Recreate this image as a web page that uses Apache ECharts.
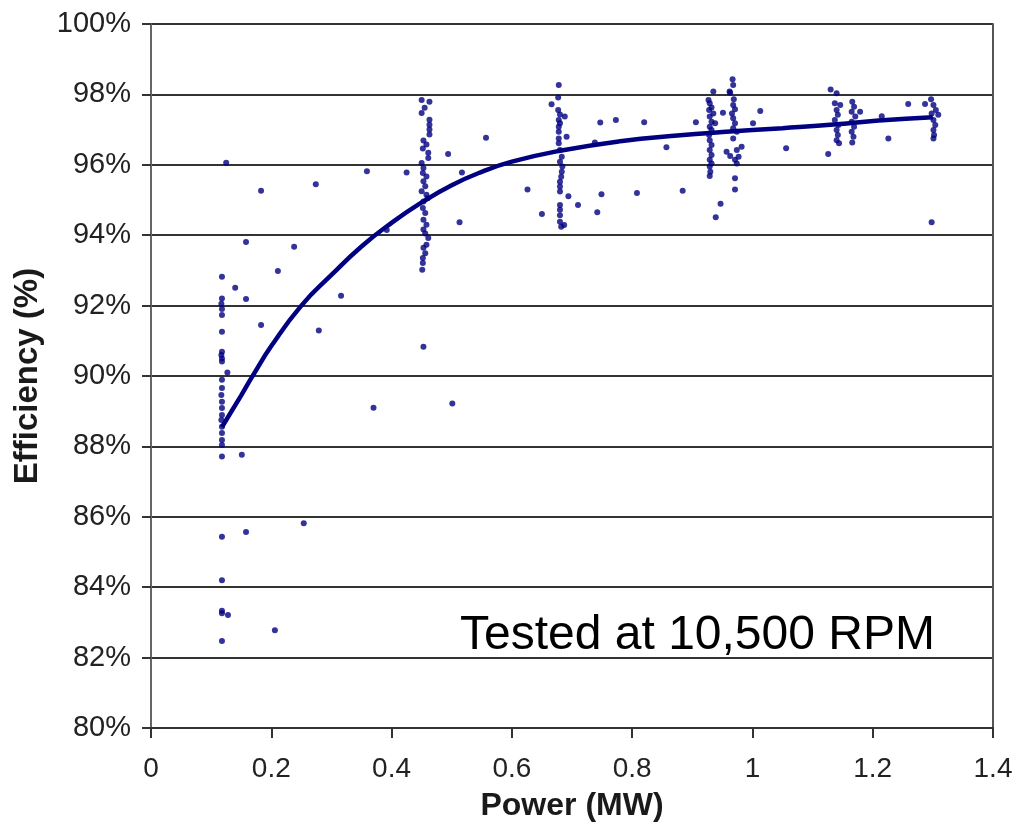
<!DOCTYPE html>
<html>
<head>
<meta charset="utf-8">
<script src="https://cdn.jsdelivr.net/npm/echarts@6/dist/echarts.min.js"></script>
<style>
  html, body { margin: 0; padding: 0; background: #fff; }
  #chart { width: 1017px; height: 824px; }
</style>
</head>
<body>
<div id="chart"></div>
<script>
// Axis ticks
const xTicks = [0, 0.2, 0.4, 0.6, 0.8, 1, 1.2, 1.4];
const yTicks = [80, 82, 84, 86, 88, 90, 92, 94, 96, 98, 100];

// Measured points [power MW, efficiency %], grouped by test load
const lowLoad = [
  [0.118,92.82],[0.118,92.2],[0.117,92.05],[0.118,91.9],[0.118,91.73],[0.118,91.26],
  [0.118,90.69],[0.117,90.6],[0.118,90.5],[0.118,90.41],[0.118,89.89],[0.118,89.66],
  [0.117,89.46],[0.118,89.27],[0.118,89.09],[0.118,88.89],[0.117,88.75],[0.118,88.56],
  [0.118,88.38],[0.118,88.18],[0.118,88.04],[0.118,87.71],[0.118,85.43],[0.118,84.2],
  [0.118,83.33],[0.118,83.26],[0.118,82.47]
];
const load045 = [
  [0.450,97.84],[0.463,97.79],[0.455,97.62],[0.450,97.47],[0.463,97.28],[0.463,97.14],
  [0.463,97.0],[0.463,96.86],[0.453,96.69],[0.458,96.58],[0.452,96.46],[0.461,96.34],
  [0.461,96.19],[0.450,96.05],[0.453,95.91],[0.452,95.77],[0.458,95.67],[0.453,95.53],
  [0.456,95.39],[0.450,95.25],[0.458,95.15],[0.460,95.05],[0.453,94.96],[0.452,94.77],
  [0.456,94.63],[0.453,94.44],[0.458,94.30],[0.453,94.16],[0.456,94.05],[0.461,93.92],
  [0.458,93.73],[0.453,93.64],[0.456,93.49],[0.452,93.35],[0.452,93.21],[0.451,93.02]
];
const load068 = [
  [0.678,98.27],[0.677,97.91],[0.666,97.72],[0.677,97.56],[0.680,97.43],[0.688,97.37],
  [0.678,97.27],[0.680,97.18],[0.678,97.08],[0.678,96.94],[0.691,96.8],[0.678,96.75],
  [0.678,96.61],[0.680,96.42],[0.683,96.23],[0.680,96.09],[0.684,95.95],[0.683,95.80],
  [0.682,95.66],[0.680,95.52],[0.680,95.38],[0.680,95.24],[0.680,94.86],[0.680,94.72],
  [0.680,94.57],[0.680,94.38],[0.687,94.29],[0.682,94.24]
];
const load093 = [
  [0.935,98.08],[0.927,97.84],[0.929,97.75],[0.932,97.63],[0.928,97.56],[0.935,97.46],
  [0.929,97.37],[0.932,97.22],[0.938,97.18],[0.929,97.08],[0.932,96.99],[0.928,96.85],
  [0.929,96.70],[0.932,96.56],[0.929,96.42],[0.932,96.28],[0.929,96.14],[0.932,96.04],
  [0.929,95.95],[0.930,95.80],[0.929,95.68]
];
const load097 = [
  [0.967,98.43],[0.968,98.27],[0.962,98.08],[0.963,98.05],[0.969,97.86],[0.968,97.70],
  [0.971,97.58],[0.966,97.46],[0.968,97.32],[0.971,97.18],[0.968,97.04],[0.974,96.94],
  [0.968,96.75],[0.982,96.51],[0.974,96.42],[0.963,96.25],[0.977,96.23],[0.971,96.14],
  [0.974,96.04],[0.971,95.62],[0.971,95.30]
];
const load114 = [
  [1.130,98.14],[1.140,98.03],[1.137,97.75],[1.146,97.70],[1.140,97.56],[1.142,97.42],
  [1.137,97.27],[1.143,97.13],[1.140,96.99],[1.142,96.85],[1.140,96.70],[1.144,96.61]
];
const load117 = [
  [1.166,97.79],[1.169,97.65],[1.165,97.51],[1.171,97.37],[1.165,97.22],[1.169,97.08],
  [1.165,96.94],[1.168,96.80],[1.166,96.63]
];
const load130 = [
  [1.297,97.86],[1.301,97.70],[1.305,97.56],[1.298,97.46],[1.309,97.42],[1.301,97.27],
  [1.304,97.13],[1.301,96.99],[1.302,96.85],[1.301,96.75]
];
const scattered = [
  [0.125,96.06],[0.183,95.26],[0.274,95.45],[0.359,95.82],[0.425,95.78],[0.158,93.81],
  [0.238,93.67],[0.211,92.98],[0.140,92.51],[0.158,92.19],[0.316,92.28],[0.183,91.45],
  [0.279,91.29],[0.127,90.1],[0.370,89.1],[0.453,90.83],[0.392,94.15],[0.151,87.76],
  [0.128,83.21],[0.158,85.57],[0.206,82.78],[0.254,85.82],[0.501,89.22],[0.494,96.31],
  [0.557,96.77],[0.517,95.78],[0.513,94.37],[0.626,95.30],[0.650,94.60],[0.694,95.11],
  [0.710,94.86],[0.742,94.65],[0.749,95.16],[0.747,97.2],[0.773,97.27],[0.820,97.21],
  [0.857,96.50],[0.906,97.21],[0.808,95.2],[0.884,95.26],[0.738,96.63],[0.951,97.48],
  [0.939,94.51],[0.947,94.89],[1.001,97.18],[1.013,97.53],[1.056,96.47],[0.957,96.37],
  [1.126,96.31],[1.215,97.38],[1.226,96.75],[1.259,97.73],[1.287,97.73],[1.298,94.37],
  [1.179,97.51]
];

// Fitted efficiency curve
const fitCurve = [
  [0.118,88.55],[0.15,89.45],[0.17,90.03],[0.2,90.85],[0.25,92.0],[0.3,92.87],
  [0.35,93.68],[0.4,94.35],[0.45,94.93],[0.5,95.42],[0.55,95.80],[0.6,96.09],
  [0.68,96.40],[0.78,96.67],[0.88,96.84],[0.95,96.93],[1.05,97.04],[1.14,97.15],
  [1.21,97.26],[1.30,97.35]
];

const annotation = 'Tested at 10,500 RPM';
const xTitle = 'Power (MW)';
const yTitle = 'Efficiency (%)';

const measured = [].concat(lowLoad, load045, load068, load093, load097,
                           load114, load117, load130, scattered);

const navy = '#000080';
const sans = 'Liberation Sans, Arial, sans-serif';
const chart = echarts.init(document.getElementById('chart'), null, { renderer: 'canvas' });

chart.setOption({
  backgroundColor: '#ffffff',
  animation: false,
  grid: { left: 151, right: 24, top: 24, bottom: 96, containLabel: false, outerBoundsMode: 'none' },
  xAxis: {
    type: 'value',
    min: xTicks[0], max: xTicks[xTicks.length - 1], interval: 0.2,
    name: xTitle,
    nameLocation: 'middle',
    nameGap: 62,
    nameTextStyle: { fontFamily: sans, fontWeight: 'bold', fontSize: 32, color: '#1a1a1a' },
    axisLine: { show: true, lineStyle: { color: '#333', width: 2 } },
    axisTick: { show: true, inside: false, length: 10, lineStyle: { color: '#333', width: 2 } },
    axisLabel: {
      margin: 27,
      fontFamily: sans, fontSize: 28, color: '#222',
      formatter: v => String(+v.toFixed(1))
    },
    splitLine: { show: false }
  },
  yAxis: [{
    type: 'value',
    min: yTicks[0], max: yTicks[yTicks.length - 1], interval: 2,
    name: yTitle,
    nameLocation: 'middle',
    nameGap: 107,
    nameRotate: 90,
    nameTextStyle: { fontFamily: sans, fontWeight: 'bold', fontSize: 33, color: '#1a1a1a' },
    axisLine: { show: true, lineStyle: { color: '#666', width: 2 } },
    axisTick: { show: true, inside: false, length: 9, lineStyle: { color: '#333', width: 2 } },
    axisLabel: {
      margin: 20,
      fontFamily: sans, fontSize: 29, color: '#222',
      formatter: '{value}%'
    },
    splitLine: { show: true, lineStyle: { color: '#333', width: 2 } }
  }, {
    type: 'value', position: 'right',
    min: yTicks[0], max: yTicks[yTicks.length - 1], interval: 2,
    axisLine: { show: true, lineStyle: { color: '#555', width: 2 } },
    axisTick: { show: false }, axisLabel: { show: false }, splitLine: { show: false }
  }],
  series: [{
    type: 'scatter',
    data: measured,
    symbol: 'circle',
    symbolSize: 6,
    itemStyle: { color: navy },
    z: 3
  }, {
    type: 'line',
    data: fitCurve,
    smooth: true,
    showSymbol: false,
    lineStyle: { color: navy, width: 4.5 },
    z: 4
  }],
  graphic: [{
    type: 'text',
    left: 460, top: 612,
    style: { text: annotation, fontFamily: sans, fontSize: 48, fill: '#000' },
    z: 10
  }]
});
</script>
</body>
</html>
